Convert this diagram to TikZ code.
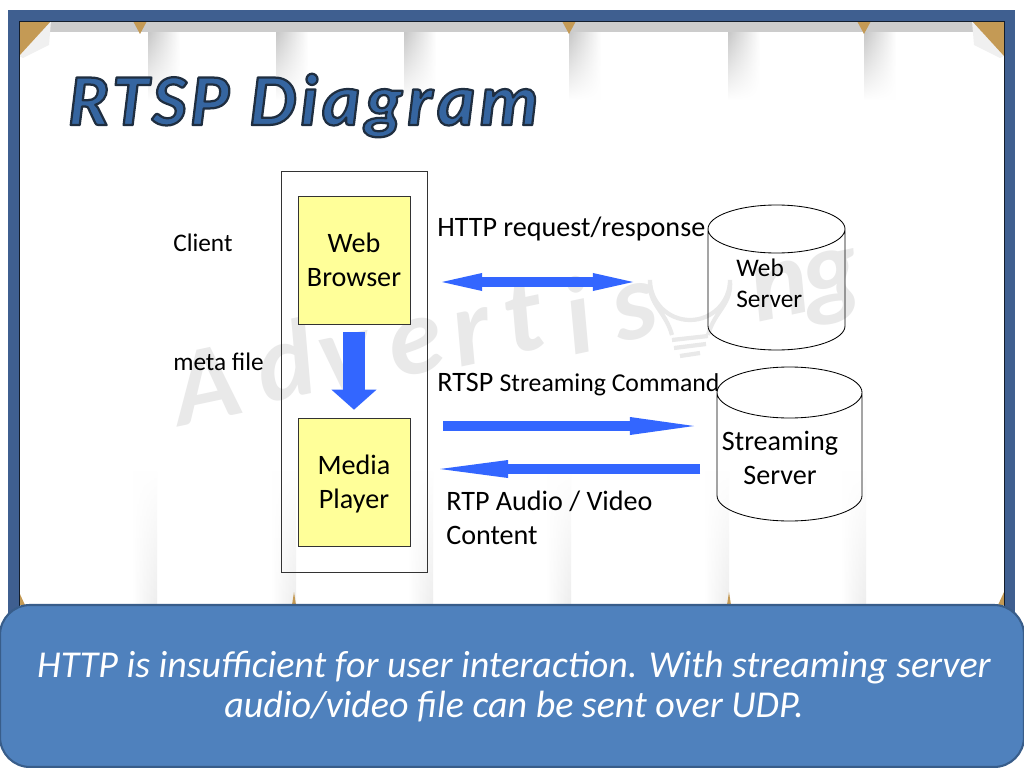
\documentclass[tikz,border=0pt]{standalone}
\usepackage{fontspec}
\setmainfont{Carlito}
\usetikzlibrary{arrows.meta,fadings}
\definecolor{framecol}{HTML}{3F5F90}
\definecolor{titlecol}{HTML}{3565A0}
\definecolor{panelcol}{HTML}{4F81BD}
\definecolor{paneledge}{HTML}{385D8A}
\definecolor{arrowcol}{HTML}{3366FF}
\definecolor{notecol}{HTML}{FFFF99}
\definecolor{tancol}{HTML}{C49A55}
\definecolor{wmcol}{HTML}{E9E9E9}
\newcommand{\sizedtext}[2]{\fontsize{#1}{#2}\selectfont}
\tikzset{
  yellowbox/.style={draw=black!80,fill=notecol,minimum width=2.8cm,minimum height=3.2cm,align=center,text depth=0pt,font=\sizedtext{20}{24}},
  srvline/.style={draw=black,line width=0.6pt},
  lbl/.style={anchor=base west,inner sep=0pt,font=\sizedtext{20}{24}},
  smalllbl/.style={anchor=base west,inner sep=0pt,font=\sizedtext{18}{20}},
  shaft/.style={arrowcol,line width=0.25cm},
  wmletter/.style={wmcol,inner sep=0pt,font=\sizedtext{78}{80}\itshape\bfseries,rotate=12}
}
\begin{document}
\begin{tikzpicture}[x=0.025cm,y=-0.025cm]
\useasboundingbox (0,0) rectangle (1024,768);
\fill[white] (0,0) rectangle (1024,768);
% paper folds
\foreach \a in {148,276,404,569,728,864}
	\shade[path fading=south,left color=black!22,right color=white] (\a,32) rectangle (\a+32,100);
\foreach \b in {157,296,433,571,729,866}
	\shade[path fading=north,left color=white,right color=black!7] (\b-25,470) rectangle (\b,605);
\fill[black!20] (19,21) rectangle (1004,32);
% tacks
\foreach \x in {140,569,864}
	\fill[tancol] (\x-7,21) -- (\x+7,21) -- (\x,34) -- cycle;
\foreach \x in {294,729}
	\fill[tancol] (\x-2,605) -- (\x+2,605) -- (\x,592) -- cycle;
% corners
\foreach \x/\s in {19/1,1004/-1}
	{
	\fill[black!6] (\x+\s*32,21) -- (\x+\s*30,45) -- (\x+\s*4,58) -- (\x,56) -- cycle;
	\fill[tancol] (\x,21) -- (\x+\s*32,21) -- (\x,56) -- cycle;
	\fill[tancol] (\x,605) -- (\x+\s*6,605) -- (\x,592) -- cycle;
	}
% frame
\draw[framecol,line width=0.275cm] (13.5,15.5) rectangle (1009.5,700);
\draw[black!70!framecol,line width=0.5pt] (19,700) -- (19,21) -- (1004,21) -- (1004,700);
% watermark
\foreach \c/\x/\y in {A/206/385,d/285/360,v/346/362,e/416/347,r/473/337,t/523/317,i/578/315,s/635/312,n/780/290,g/833/287}
	\node[wmletter] (wm\c) at (\x,\y) {\c};
\draw[wmcol,line width=3pt] (672,335) .. controls (665,310) and (648,305) .. (650,280) arc[start angle=180,end angle=0,radius=40] .. controls (732,305) and (715,310) .. (708,335);
\draw[wmcol,line width=3pt] (672,340) -- (708,336) (674,348) -- (706,344) (680,356) -- (700,353);
% client side
\node[draw=black!80,minimum width=3.65cm,minimum height=10.025cm] (clientbox) at (354,371.5) {};
\node[yellowbox] (browser) at (354,260) {Web\\Browser};
\node[yellowbox] (player) at (354,482) {Media\\Player};
\node[smalllbl] (clientlbl) at (173,251) {Client};
\node[smalllbl] (metalbl) at (173,370) {meta file};
\draw[arrowcol,line width=0.55cm,-{Triangle[length=0.5cm,width=1.125cm,line width=0pt]},shorten <=0.2cm,shorten >=0.2cm] (browser) -- (player);
% servers
\draw[srvline] (708,229) arc[x radius=68.5,y radius=24,start angle=180,end angle=540]
	-- (708,326) arc[x radius=68.5,y radius=24,start angle=180,end angle=0] -- (845,229);
\draw[srvline] (717,392.5) arc[x radius=72.5,y radius=25.5,start angle=180,end angle=540]
	-- (717,495.5) arc[x radius=72.5,y radius=25.5,start angle=180,end angle=0] -- (862,392.5);
\node[smalllbl] (weblbl) at (736,276) {Web};
\node[smalllbl] (srvlbl) at (736,307) {Server};
\node[align=center,inner sep=0pt,font=\sizedtext{20}{24}] (streamlbl) at (780,458) {Streaming\\Server};
% arrows
\coordinate (httpL) at (442,282);
\coordinate (httpR) at (633,282);
\coordinate (rtspL) at (443,426);
\coordinate (rtspR) at (694,426);
\coordinate (rtpL) at (440,469);
\coordinate (rtpR) at (700,469);
\draw[shaft,{Triangle[length=1cm,width=0.45cm,line width=0pt]}-{Triangle[length=1cm,width=0.45cm,line width=0pt]}] (httpL) -- (httpR);
\draw[shaft,-{Triangle[length=1.6cm,width=0.45cm,line width=0pt]}] (rtspL) -- (rtspR);
\draw[shaft,-{Triangle[length=1.7cm,width=0.45cm,line width=0pt]}] (rtpR) -- (rtpL);
% labels
\node[lbl] (httplbl) at (437,236) {HTTP request/response};
\node[lbl] (rtsplbl) at (437,391) {RTSP {\sizedtext{18.3}{21}Streaming Command}};
\node[lbl] (rtplbl) at (446,510) {RTP Audio / Video};
\node[lbl] (contentlbl) at (446,544) {Content};
% title
\node[anchor=base west,inner sep=0pt,text=titlecol,font=\sizedtext{52}{60}\itshape\bfseries\addfontfeature{LetterSpace=5.5}] (title) at (68,125) {\special{pdf:code 2 Tr 1.6 w 1 j 0.12 0.18 0.25 RG}RTSP Diagram\special{pdf:code 0 Tr}};
% bottom panel
\draw[paneledge,fill=panelcol,line width=1.5pt,rounded corners=0.75cm] (0,605) rectangle (1024,767);
\node[text=white,align=center,inner sep=0pt,font=\sizedtext{27}{28.5}\itshape] (note) at (514,687) {HTTP is insufficient for user interaction. With streaming server\\audio/video file can be sent over UDP.};
\end{tikzpicture}
\end{document}
